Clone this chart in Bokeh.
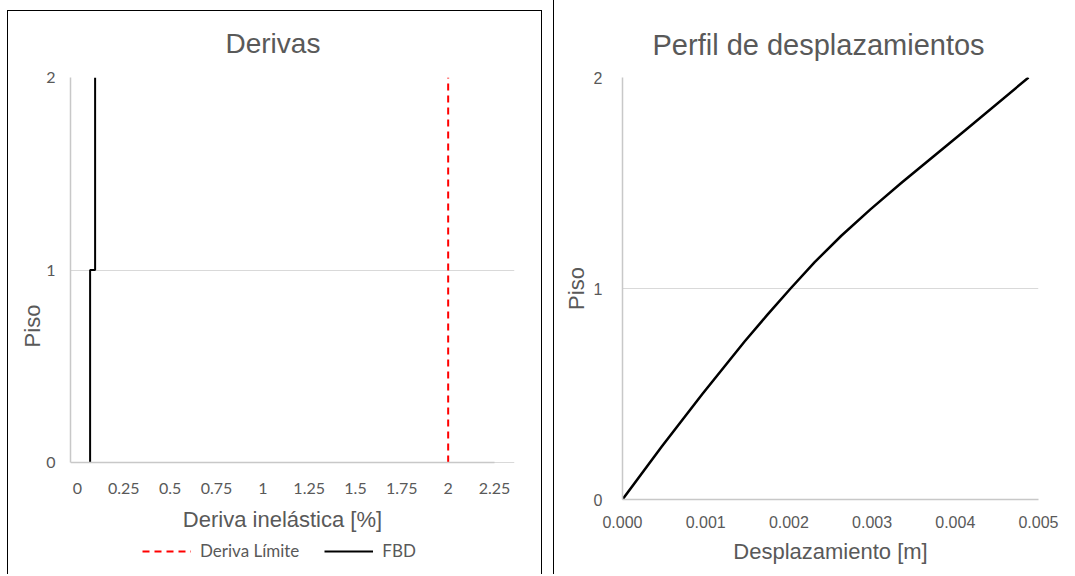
from bokeh.plotting import figure
from bokeh.layouts import row
from bokeh.models import (FixedTicker, Legend, LegendItem, Range1d, InlineStyleSheet)
from bokeh.embed import file_html
from bokeh.resources import INLINE

# ---------------- data ----------------
piso_ticks = [0, 1, 2]
deriva_ticks = [0, 0.25, 0.5, 0.75, 1, 1.25, 1.5, 1.75, 2, 2.25]
deriva_tick_labels = ["0", "0.25", "0.5", "0.75", "1", "1.25", "1.5", "1.75", "2", "2.25"]

limite_x = [2.0, 2.0]
limite_y = [0, 2]

fbd_x = [0.068, 0.068, 0.095, 0.095]
fbd_y = [0, 1, 1, 2]

desp_ticks = [0, 0.001, 0.002, 0.003, 0.004, 0.005]
desp_tick_labels = ["0.000", "0.001", "0.002", "0.003", "0.004", "0.005"]
desp_y = [0, 0.25, 0.5, 0.75, 0.875, 1.0, 1.125, 1.25, 1.375, 1.5, 1.75, 2.0]
desp_x = [0, 0.00047, 0.00096, 0.00147, 0.00174, 0.00202, 0.00231, 0.00263,
          0.00298, 0.00335, 0.00412, 0.00488]

TXT = "#595959"
GRID = "#d9d9d9"
AXL = "#c8c8c8"


def style(p, tick_font, tick_size):
    p.xgrid.visible = False
    p.ygrid.grid_line_color = GRID
    p.ygrid.grid_line_width = 1
    p.outline_line_color = None
    for ax in (p.xaxis[0], p.yaxis[0]):
        ax.axis_line_color = AXL
        ax.axis_line_width = 1.5
        ax.major_tick_line_color = None
        ax.minor_tick_line_color = None
        ax.major_label_text_color = TXT
        ax.major_label_text_font = tick_font
        ax.major_label_text_font_size = tick_size
        ax.axis_label_text_color = TXT
        ax.axis_label_text_font = "Liberation Sans"
        ax.axis_label_text_font_size = "22px"
        ax.axis_label_text_font_style = "normal"
    p.yaxis[0].ticker = FixedTicker(ticks=piso_ticks)
    p.title.text_color = TXT
    p.title.text_font = "Liberation Sans"
    p.title.text_font_style = "normal"
    p.title.align = "left"


# ---------------- left: Derivas ----------------
# the plot area reaches down to the legend row; the x axis is fixed at Piso = 0
x1_start, x1_end = -0.0378, 2.3579
p1 = figure(frame_width=444, frame_height=497, output_backend="svg", toolbar_location=None,
            x_range=Range1d(x1_start, x1_end), y_range=Range1d(-0.5818, 2),
            title="Derivas", min_border_left=70, min_border_right=39,
            min_border_top=77, min_border_bottom=0)
style(p1, "Lato", "16px")
p1.title.text_font_size = "28px"
p1.title.standoff = 37
p1.title.offset = 155
p1.xaxis[0].ticker = FixedTicker(ticks=deriva_ticks)
p1.xaxis[0].major_label_overrides = {t: l for t, l in zip(deriva_ticks, deriva_tick_labels)}
p1.xaxis[0].axis_label = "Deriva inelástica [%]"
p1.xaxis[0].fixed_location = 0
p1.xaxis[0].bounds = (x1_start, deriva_ticks[-1])
p1.yaxis[0].bounds = (0, 2)
p1.yaxis[0].axis_label = "Piso"
p1.xaxis[0].major_label_standoff = 14
p1.xaxis[0].axis_label_standoff = 10
p1.yaxis[0].major_label_standoff = 9
p1.yaxis[0].axis_label_standoff = -2
p1.ygrid.bounds = (0, 2)

r_lim = p1.line(limite_x, limite_y, line_color="#ff0000", line_width=2, line_dash="7 5")
r_fbd = p1.line(fbd_x, fbd_y, line_color="black", line_width=2)

leg = Legend(items=[LegendItem(label="Deriva Límite", renderers=[r_lim]),
                    LegendItem(label="FBD", renderers=[r_fbd])],
             orientation="horizontal", location=(72, 13),
             border_line_color=None, background_fill_alpha=0,
             label_text_font="Lato", label_text_font_size="17px", label_text_color=TXT,
             glyph_width=49, glyph_height=20, spacing=25, padding=0, margin=0,
             label_standoff=9)
p1.add_layout(leg)

p1.stylesheets = [InlineStyleSheet(css="""
:host { position: relative; }
:host::after {
  content: ""; position: absolute; left: 7px; top: 10px; width: 535px; height: 564px;
  border-left: 1.3px solid black; border-right: 1.3px solid black; border-top: 1.3px solid black;
  box-sizing: border-box; pointer-events: none; z-index: 10;
}
""")]

# ---------------- right: Perfil de desplazamientos ----------------
p2 = figure(frame_width=416, frame_height=422, output_backend="svg", toolbar_location=None,
            x_range=Range1d(0, 0.005), y_range=Range1d(0, 2),
            title="Perfil de desplazamientos", min_border_left=69, min_border_right=30,
            min_border_top=75, min_border_bottom=77)
style(p2, "Liberation Sans", "16px")
p2.title.text_font_size = "29px"
p2.title.standoff = 33
p2.title.offset = 30
p2.xaxis[0].ticker = FixedTicker(ticks=desp_ticks)
p2.xaxis[0].major_label_overrides = {t: l for t, l in zip(desp_ticks, desp_tick_labels)}
p2.xaxis[0].axis_label = "Desplazamiento [m]"
p2.yaxis[0].axis_label = "Piso"
p2.xaxis[0].major_label_standoff = 10
p2.xaxis[0].axis_label_standoff = 8
p2.yaxis[0].major_label_standoff = 14
p2.yaxis[0].axis_label_standoff = 2

p2.line(desp_x, desp_y, line_color="black", line_width=2.5, line_join="round")

p2.stylesheets = [InlineStyleSheet(css="""
:host { position: relative; }
:host::before {
  content: ""; position: absolute; left: 0px; top: 0px; width: 1.3px; height: 574px;
  background: black; pointer-events: none; z-index: 10;
}
""")]

layout = row(p1, p2)
open("out.html", "w").write(file_html(layout, INLINE))
